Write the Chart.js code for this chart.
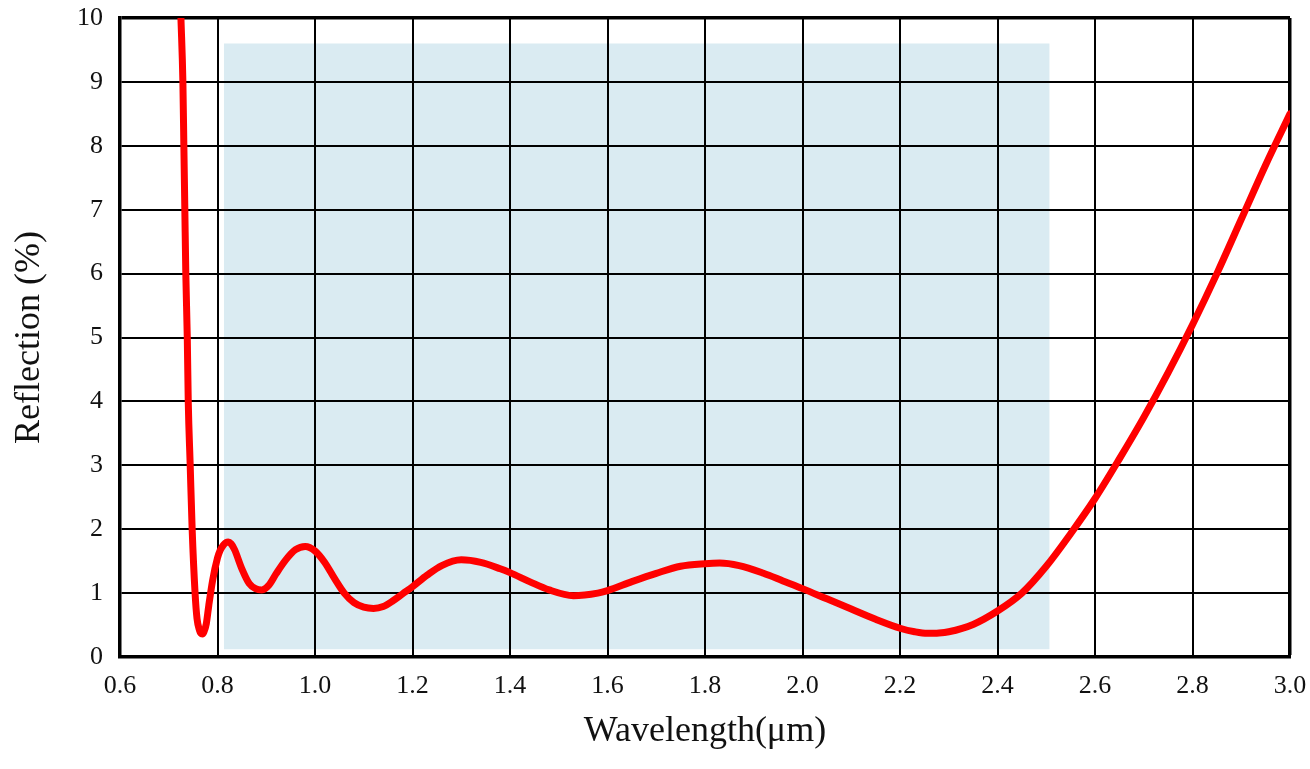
<!DOCTYPE html>
<html>
<head>
<meta charset="utf-8">
<script src="https://cdn.jsdelivr.net/npm/chart.js@4/dist/chart.umd.min.js"></script>
<style>
  html, body { margin: 0; padding: 0; background: #fff; }
  #wrap { width: 1310px; height: 769px; }
</style>
</head>
<body>
<div id="wrap"><canvas id="chart-reflexion"></canvas></div>
<script>
// Curva de reflexión
const WAVELENGTH = [
  0.725, 0.729, 0.731, 0.733, 0.735, 0.738, 0.740, 0.744, 0.748, 0.754,
  0.758, 0.763, 0.766, 0.769, 0.772, 0.777, 0.782, 0.790, 0.800, 0.805,
  0.812, 0.818, 0.822, 0.828, 0.835, 0.850, 0.865, 0.878, 0.891, 0.905,
  0.920, 0.940, 0.960, 0.980, 1.000, 1.020, 1.040, 1.060, 1.080, 1.100,
  1.120, 1.140, 1.160, 1.180, 1.200, 1.230, 1.260, 1.300, 1.340, 1.380,
  1.400, 1.440, 1.480, 1.530, 1.580, 1.600, 1.650, 1.700, 1.750, 1.800,
  1.830, 1.870, 1.920, 1.960, 2.000, 2.050, 2.100, 2.150, 2.200, 2.230,
  2.256, 2.280, 2.300, 2.350, 2.400, 2.450, 2.500, 2.550, 2.600, 2.650,
  2.700, 2.750, 2.800, 2.850, 2.900, 2.950, 3.000
];
const REFLECTION = [
  10.0, 9.0, 8.0, 7.0, 6.0, 5.0, 4.0, 3.0, 2.0, 1.0,
  0.60, 0.42, 0.37, 0.36, 0.39, 0.52, 0.80, 1.20, 1.55, 1.66,
  1.75, 1.795, 1.80, 1.77, 1.68, 1.38, 1.15, 1.07, 1.05, 1.12,
  1.30, 1.52, 1.68, 1.73, 1.66, 1.48, 1.23, 1.00, 0.85, 0.78,
  0.76, 0.79, 0.88, 0.99, 1.10, 1.28, 1.43, 1.52, 1.48, 1.38,
  1.32, 1.18, 1.05, 0.96, 1.00, 1.04, 1.18, 1.31, 1.42, 1.46,
  1.47, 1.43, 1.31, 1.19, 1.07, 0.91, 0.75, 0.59, 0.45, 0.395,
  0.37, 0.375, 0.395, 0.51, 0.72, 1.00, 1.42, 1.93, 2.48, 3.10,
  3.75, 4.45, 5.20, 6.00, 6.85, 7.70, 8.50
];

// Banda sombreada
const SHADE_X = [0.813, 2.507];
const SHADE_TOP = 9.6;
const SHADE_BOTTOM = 0.12;

const X_TICKS = [0.6, 0.8, 1.0, 1.2, 1.4, 1.6, 1.8, 2.0, 2.2, 2.4, 2.6, 2.8, 3.0];
const Y_TICKS = [0, 1, 2, 3, 4, 5, 6, 7, 8, 9, 10];

const SERIF = "'Liberation Serif', 'Times New Roman', serif";

const curva = WAVELENGTH.map((x, i) => ({ x, y: REFLECTION[i] }));
const banda = SHADE_X.map(x => ({ x, y: SHADE_TOP }));

new Chart(document.getElementById('chart-reflexion'), {
  type: 'line',
  data: {
    datasets: [
      {
        label: 'Reflection', data: curva,
        borderColor: '#ff0000', borderWidth: 7, fill: false,
        cubicInterpolationMode: 'monotone', pointRadius: 0, borderCapStyle: 'round',
      },
      {
        label: 'Banda', data: banda,
        borderWidth: 0, borderColor: 'rgba(0,0,0,0)', backgroundColor: '#daebf2',
        fill: { value: SHADE_BOTTOM }, pointRadius: 0,
      },
    ],
  },
  options: {
    responsive: true, maintainAspectRatio: false, animation: false,
    layout: { padding: { top: 18, right: 20, left: 0, bottom: 0 } },
    scales: {
      x: {
        type: 'linear', min: 0.6, max: 3.0,
        afterBuildTicks: s => { s.ticks = X_TICKS.map(v => ({ value: v })); },
        afterFit: s => { s.height = 112; s.paddingLeft = 0; s.paddingRight = 0; },
        ticks: { color: '#111', padding: 14, font: { family: SERIF, size: 26 }, callback: v => Number(v).toFixed(1) },
        grid: { color: '#000', drawTicks: false, lineWidth: c => (c.tick && c.tick.value === 3.0 ? 3.5 : 2) },
        border: { color: '#000', width: 3.5 },
        title: { display: true, text: 'Wavelength(\u03bcm)', color: '#111', font: { family: SERIF, size: 36 }, padding: { top: 0, bottom: 16 } },
      },
      y: {
        min: 0, max: 10,
        afterBuildTicks: s => { s.ticks = Y_TICKS.map(v => ({ value: v })); },
        afterFit: s => { s.width = 120; s.paddingTop = 0; s.paddingBottom = 0; },
        ticks: { color: '#111', padding: 17, font: { family: SERIF, size: 26 } },
        grid: { color: '#000', drawTicks: false, lineWidth: c => (c.tick && c.tick.value === 10 ? 3.5 : 2) },
        border: { color: '#000', width: 3.5 },
        title: { display: true, text: 'Reflection (%)', color: '#111', font: { family: SERIF, size: 36 }, padding: { top: 8, bottom: 0 } },
      },
    },
    plugins: {
      legend: { display: false },
      tooltip: { enabled: false },
      filler: { drawTime: 'beforeDraw' },
    },
  },
});
</script>
</body>
</html>
